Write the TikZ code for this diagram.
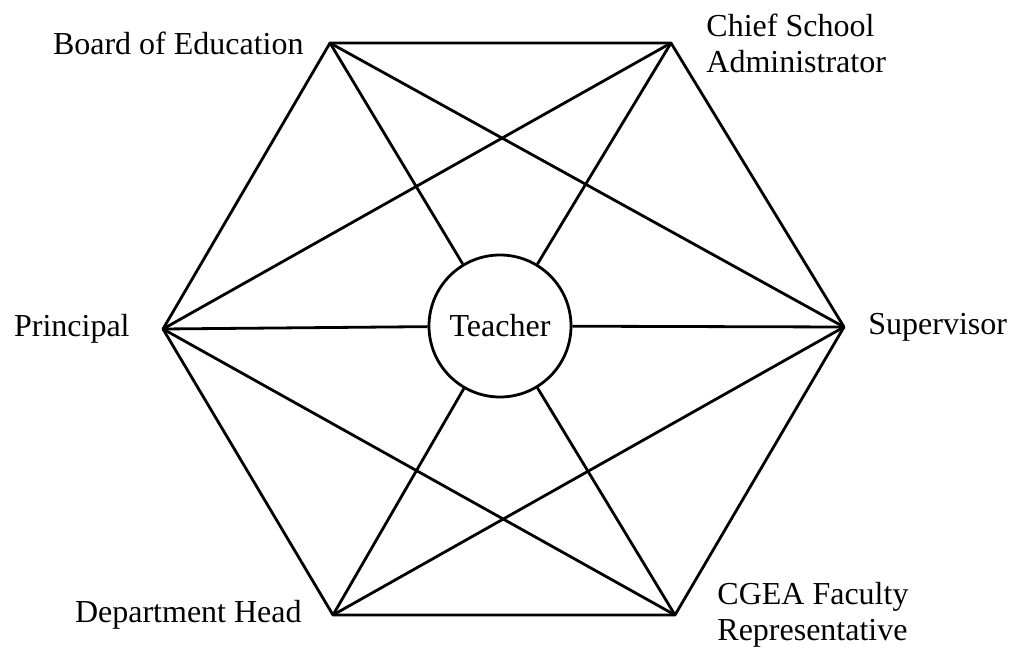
\documentclass[tikz,border=0pt]{standalone}
\usepackage{fontspec}
\setmainfont{Liberation Serif}
\usetikzlibrary{positioning}
\tikzset{
role/.style={
  inner sep=0pt,
  align=left,
  font=\fontsize{16}{18}\selectfont},
hub/.style={
  circle,
  draw,
  line width=1.4pt,
  minimum size=71pt,
  inner sep=0pt,
  font=\fontsize{16}{18}\selectfont},
edge/.style={draw, line width=1.4pt, line join=round}
}

\begin{document}
\begin{tikzpicture}[x=0.5pt,y=0.5pt]
    \useasboundingbox (0,0) rectangle (1016,648);
    % corners of the hexagon
    \coordinate (boe) at (330,605);
    \coordinate (csa) at (671,605);
    \coordinate (sup) at (844,321);
    \coordinate (cgea) at (675,33);
    \coordinate (dh) at (333,33);
    \coordinate (pr) at (163,319);
    \node [hub] (teacher) at (500,322) {Teacher};
    % labels next to the corners
    \node [role, left=13pt of boe] (boe_lab) {Board of Education};
    \node [role, right=17.5pt of csa] (csa_lab) {Chief School\\Administrator};
    \node [role, right=12pt of sup] (sup_lab) {Supervisor};
    \node [role, right=21pt of cgea] (cgea_lab) {CGEA Faculty\\Representative};
    \node [role, left=15.5pt of dh] (dh_lab) {Department Head};
    \node [role, left=16.5pt of pr] (pr_lab) {Principal};
    % outer ring
    \path [edge] (boe) -- (csa) -- (sup) -- (cgea) -- (dh) -- (pr) -- cycle;
    % diagonals
    \path [edge] (boe) -- (sup);
    \path [edge] (csa) -- (pr);
    \path [edge] (sup) -- (dh);
    \path [edge] (cgea) -- (pr);
    % spokes to the teacher
    \path [edge] (boe) -- (teacher);
    \path [edge] (csa) -- (teacher);
    \path [edge] (sup) -- (teacher);
    \path [edge] (cgea) -- (teacher);
    \path [edge] (dh) -- (teacher);
    \path [edge] (pr) -- (teacher);
\end{tikzpicture}
\end{document}
